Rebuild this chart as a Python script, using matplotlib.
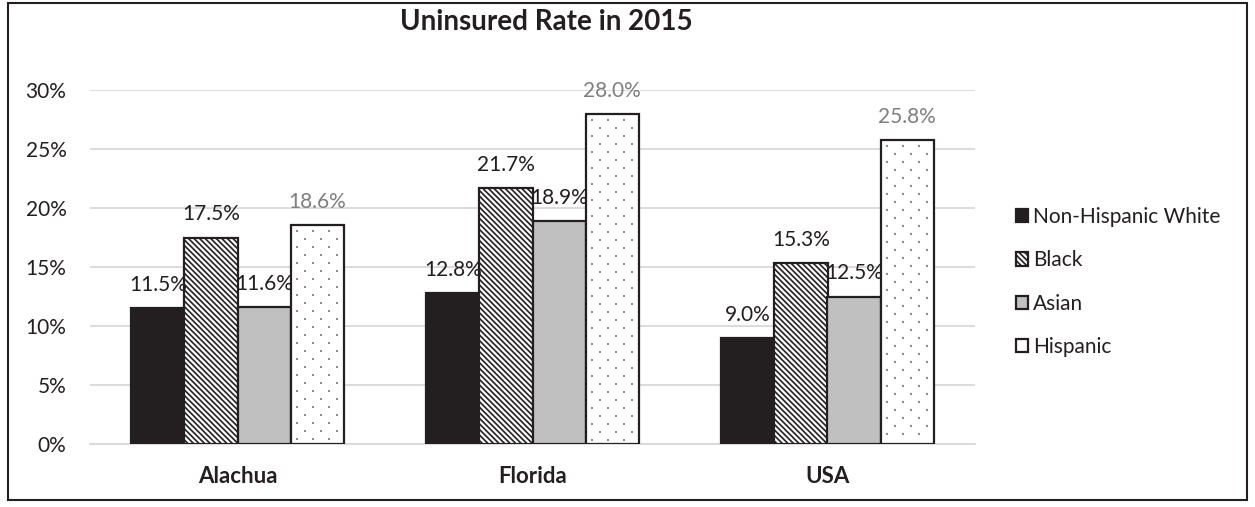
import matplotlib
matplotlib.use("Agg")
import matplotlib.pyplot as plt
import numpy as np
from matplotlib.ticker import FuncFormatter
from matplotlib.patches import Rectangle

categories = ["Alachua", "Florida", "USA"]
series = ["Non-Hispanic White", "Black", "Asian", "Hispanic"]
nhw = [11.5, 12.8, 9.0]
black = [17.5, 21.7, 15.3]
asian = [11.6, 18.9, 12.5]
hispanic = [18.6, 28.0, 25.8]
values = [nhw, black, asian, hispanic]

plt.rcParams['font.family'] = ['Lato', 'DejaVu Sans']
plt.rcParams['hatch.linewidth'] = 1.2

W, H = 1255, 507
fig = plt.figure(figsize=(W/100, H/100), dpi=100)
ax = fig.add_axes([90/W, 1-444/H, (975-90)/W, (444-90)/H])

styles = [
    dict(facecolor="#231f20", hatch=None),
    dict(facecolor="white", hatch="\\\\\\\\\\\\"),
    dict(facecolor="#c0c0c0", hatch=None),
    dict(facecolor="white", hatch=None),
]
label_colors = ["#231f20", "#231f20", "#231f20", "#7f7f7f"]

x = np.arange(len(categories))
w = 0.18
handles = []
# pixel -> data conversions for dot pattern
px_x = 3.0 / (975 - 90)
px_y = 30.0 / (444 - 90)
for i, (vals, st) in enumerate(zip(values, styles)):
    pos = x + (i - 1.5) * w
    bars = ax.bar(pos, vals, width=w, facecolor=st["facecolor"], edgecolor="#231f20",
                  hatch=st["hatch"], linewidth=1.6, zorder=3, label=series[i])
    if i == 3:
        for b in bars:
            x0, x1 = b.get_x(), b.get_x() + b.get_width()
            top = b.get_height()
            dx, dy = 16 * px_x, 8 * px_y
            xs, ys = [], []
            row = 0
            yy = top - 6 * px_y
            while yy > 3 * px_y:
                off = (8 * px_x) if row % 2 else 0.0
                xx = x0 + 6 * px_x + off
                while xx < x1 - 3 * px_x:
                    xs.append(xx); ys.append(yy)
                    xx += dx
                yy -= dy
                row += 1
            ax.scatter(xs, ys, s=1.2, color="#8c8c8c", marker="s", linewidths=0, zorder=4)
    for b, v in zip(bars, vals):
        ax.text(b.get_x() + b.get_width()/2, v + 1.95, f"{v:.1f}%", ha="center", va="center",
                fontsize=15, color=label_colors[i], zorder=5)
    handles.append(bars)

ax.set_ylim(0, 30)
ax.set_xlim(-0.5, 2.5)
ax.set_yticks(np.arange(0, 31, 5))
ax.yaxis.set_major_formatter(FuncFormatter(lambda v, p: f"{v:.0f}%"))
ax.grid(axis="y", color="#d9d9d9", linewidth=1.3, zorder=0)
ax.set_xticks(x)
ax.set_xticklabels(categories, fontsize=16, fontweight="bold", color="#231f20")
for s in ["top", "right", "left"]:
    ax.spines[s].set_visible(False)
ax.spines["bottom"].set_color("#d9d9d9")
ax.spines["bottom"].set_linewidth(1.3)
ax.tick_params(axis="both", length=0, colors="#231f20")
ax.tick_params(axis="y", labelsize=15, pad=17)
ax.tick_params(axis="x", pad=16)

fig.text(546/W, 1-22/H, "Uninsured Rate in 2015", ha="center", va="center",
         fontsize=20, fontweight="bold", color="#231f20")

leg = fig.legend(handles=handles, labels=series, loc="center left",
                 bbox_to_anchor=(997/W, 1-282/H), frameon=False, fontsize=15,
                 handlelength=0.6, handleheight=0.6, handletextpad=0.22, labelspacing=1.12)
for t in leg.get_texts():
    t.set_color("#231f20")

fig.patches.append(Rectangle((8/W, 1-500/H), (1247-8)/W, (500-3)/H,
                             transform=fig.transFigure, fill=False, edgecolor="#231f20",
                             linewidth=1.5))

fig.savefig("out.png", dpi=100)
